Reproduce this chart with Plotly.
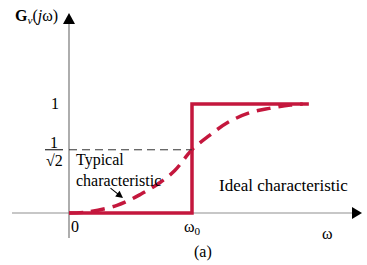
import plotly.graph_objects as go

# ---- data (normalised frequency w/w0, magnitude as drawn) ----
ideal_w = [0.0, 1.0, 1.0, 1.95]
ideal_g = [0.0, 0.0, 1.0, 1.0]
typ_w = [0.0, 0.15, 0.39, 0.58, 0.74, 0.86, 1.0, 1.14, 1.29, 1.47, 1.63, 1.80, 1.90]
typ_g = [0.0, 0.01, 0.07, 0.17, 0.28, 0.39, 0.58, 0.71, 0.83, 0.92, 0.96, 0.99, 1.0]
half_power_level = 0.58   # drawn height of 1/sqrt(2)
x_tick_labels = ["0", "ω<sub>0</sub>", "ω"]

W, H = 367, 265
X0PX, UX = 69, 123.0   # origin px, px per unit
Y0PX, UY = 213, 109.0

def px2x(p):
    return (p - X0PX) / UX

def px2y(p):
    return (Y0PX - p) / UY

RED = "#C4173D"
SERIF = "Liberation Serif"

fig = go.Figure()
fig.add_trace(go.Scatter(x=ideal_w, y=ideal_g, mode="lines",
                         line=dict(color=RED, width=3.5), hoverinfo="skip"))
fig.add_trace(go.Scatter(x=typ_w, y=typ_g, mode="lines",
                         line=dict(color=RED, width=3.5, dash="14px,8px", shape="spline"),
                         hoverinfo="skip"))
# dashed 1/sqrt2 guide
fig.add_trace(go.Scatter(x=[0, 1], y=[half_power_level] * 2, mode="lines",
                         line=dict(color="#333333", width=1, dash="8px,5px"), hoverinfo="skip"))

shapes = []
# x axis
shapes.append(dict(type="line", xref="x", yref="y", x0=px2x(12), x1=px2x(353), y0=0, y1=0,
                   line=dict(color="#b4b4b4", width=1.5), layer="below"))
shapes.append(dict(type="path", xref="x", yref="y",
                   path=f"M {px2x(352)} {px2y(207)} L {px2x(362)} {px2y(213)} L {px2x(352)} {px2y(219)} Z",
                   fillcolor="black", line=dict(width=0)))
# y axis
shapes.append(dict(type="line", xref="x", yref="y", x0=0, x1=0, y0=px2y(238), y1=px2y(22),
                   line=dict(color="#777777", width=1.2), layer="below"))
shapes.append(dict(type="path", xref="x", yref="y",
                   path=f"M {px2x(63)} {px2y(24)} L {px2x(69)} {px2y(13)} L {px2x(75)} {px2y(24)} Z",
                   fillcolor="black", line=dict(width=0)))
# fraction bar
shapes.append(dict(type="line", xref="x", yref="y", x0=px2x(45), x1=px2x(63),
                   y0=half_power_level, y1=half_power_level, line=dict(color="black", width=1)))

ann = []
def txt(t, xp, yp, size=16, xanchor="center", align="center"):
    ann.append(dict(text=t, x=px2x(xp), y=px2y(yp), xref="x", yref="y", showarrow=False,
                    font=dict(family=SERIF, size=size, color="black"),
                    xanchor=xanchor, yanchor="middle", align=align))

txt("<b>G</b><sub><i>v</i></sub>(<i>j</i>ω)", 13, 16, size=16, xanchor="left")
txt("1", 61, 103, xanchor="right")
txt("1", 54, 142)
txt("√2", 54, 160)
txt("Typical<br>characteristic", 74, 170, size=16, xanchor="left", align="left")
txt("Ideal characteristic", 217, 185, size=17, xanchor="left")
txt(x_tick_labels[0], 75, 226)
txt(x_tick_labels[1], 192, 227)
txt(x_tick_labels[2], 327, 233)
txt("(a)", 203, 252)

ann.append(dict(x=px2x(123), y=px2y(198), ax=px2x(109), ay=px2y(187),
                xref="x", yref="y", axref="x", ayref="y", text="",
                showarrow=True, arrowhead=2, arrowsize=1.3, arrowwidth=1.1, arrowcolor="black"))

fig.update_layout(
    width=W, height=H, margin=dict(l=0, r=0, t=0, b=0),
    paper_bgcolor="white", plot_bgcolor="white", showlegend=False,
    xaxis=dict(range=[px2x(0), px2x(W)], visible=False, fixedrange=True),
    yaxis=dict(range=[px2y(H), px2y(0)], visible=False, fixedrange=True),
    shapes=shapes, annotations=ann,
)
fig.write_html("out.html")
